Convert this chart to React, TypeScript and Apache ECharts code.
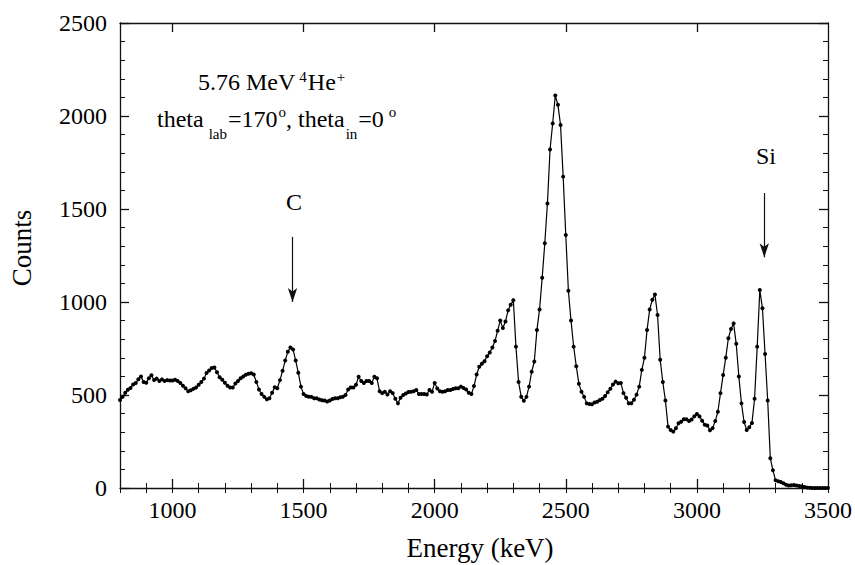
import React, { useEffect, useRef } from "react";
import * as echarts from "echarts";

const FONT = "Liberation Serif";
const INK = "#000";

// Spectrum: 10 keV bins starting at 800 keV
const E_START = 800;
const E_STEP = 10;
const counts0800 = [473, 490, 512, 528, 538, 556, 564, 585, 600, 570, 566, 590, 606, 580, 588, 575, 584, 575, 580, 578];
const counts1000 = [578, 582, 575, 565, 550, 536, 520, 525, 533, 540, 555, 570, 588, 618, 632, 645, 648, 622, 595, 582];
const counts1200 = [566, 550, 540, 540, 562, 575, 590, 600, 609, 614, 617, 610, 570, 530, 505, 490, 477, 482, 512, 542];
const counts1400 = [536, 580, 630, 685, 733, 755, 745, 685, 620, 545, 505, 495, 491, 490, 483, 482, 476, 472, 470, 465];
const counts1600 = [470, 478, 482, 482, 488, 491, 500, 530, 540, 540, 555, 598, 575, 565, 575, 575, 565, 598, 590, 520];
const counts1800 = [510, 518, 503, 520, 510, 480, 455, 485, 500, 508, 516, 518, 520, 527, 505, 505, 505, 503, 527, 518];
const counts2000 = [565, 535, 520, 518, 520, 527, 527, 532, 536, 536, 545, 538, 530, 512, 505, 548, 610, 652, 668, 682];
const counts2200 = [708, 728, 755, 790, 845, 900, 860, 895, 955, 985, 1010, 760, 570, 491, 469, 490, 545, 625, 680, 850];
const counts2400 = [960, 1130, 1316, 1530, 1820, 1960, 2110, 2060, 1952, 1674, 1360, 1060, 900, 760, 655, 560, 518, 490, 455, 452];
const counts2600 = [450, 460, 464, 473, 480, 495, 515, 534, 556, 572, 563, 565, 510, 485, 455, 456, 474, 502, 545, 635];
const counts2800 = [700, 850, 960, 1012, 1040, 930, 690, 570, 470, 330, 312, 303, 321, 348, 356, 370, 370, 360, 368, 385];
const counts3000 = [398, 385, 362, 340, 336, 310, 322, 360, 410, 510, 607, 700, 805, 855, 885, 775, 600, 455, 355, 312];
const counts3200 = [327, 350, 480, 760, 1064, 966, 720, 470, 160, 95, 42, 36, 32, 25, 17, 14, 15, 16, 13, 11];
const counts3400 = [9, 5, 2, 1, 0, 0, 0, 0, 0, 0, 0];

const COUNTS = [
  ...counts0800, ...counts1000, ...counts1200, ...counts1400, ...counts1600,
  ...counts1800, ...counts2000, ...counts2200, ...counts2400, ...counts2600,
  ...counts2800, ...counts3000, ...counts3200, ...counts3400,
];

const X_MIN = 800;
const X_MAX = 3500;
const Y_MIN = 0;
const Y_MAX = 2500;
const xMajorTicks = [1000, 1500, 2000, 2500, 3000];
const xTickLabels = [1000, 1500, 2000, 2500, 3000, 3500];

// Annotation arrows (energy, from count, to count)
const peakLabels = ["C", "Si"];
const arrowEnergy = [1458, 3257];
const arrowFrom = [1350, 1586];
const arrowTo = [1000, 1240];

type Seg = { t: string; s: number; dy: number; gap?: number };

const line1: Seg[] = [
  { t: "5.76 MeV", s: 24, dy: 0 },
  { t: "4", s: 15, dy: -8, gap: 4 },
  { t: "He", s: 24, dy: 0, gap: 1 },
  { t: "+", s: 15, dy: -8, gap: 1 },
];
const line2: Seg[] = [
  { t: "theta", s: 24, dy: 0 },
  { t: "lab", s: 15, dy: 12, gap: 5 },
  { t: "=170", s: 24, dy: 0, gap: 1 },
  { t: "o", s: 15, dy: -10, gap: 1 },
  { t: ", theta", s: 24, dy: 0 },
  { t: "in", s: 15, dy: 12, gap: 1 },
  { t: "=0", s: 24, dy: 0, gap: 1 },
  { t: "o", s: 15, dy: -10, gap: 5 },
];

function measure(text: string, size: number): number {
  const c = document.createElement("canvas").getContext("2d");
  if (!c) return text.length * size * 0.5;
  c.font = `${size}px "${FONT}", serif`;
  return c.measureText(text).width;
}

function lineEls(segs: Seg[], xLeft: number, baseline: number) {
  let x = xLeft;
  const els: any[] = [];
  for (const sg of segs) {
    x += sg.gap || 0;
    els.push({
      type: "text",
      x,
      y: baseline + sg.dy - 0.3375 * sg.s,
      silent: true,
      style: {
        text: sg.t,
        fontSize: sg.s,
        fontFamily: FONT,
        fill: INK,
        align: "left",
        verticalAlign: "middle",
      },
    });
    x += measure(sg.t, sg.s);
  }
  return els;
}

export default function App() {
  const ref = useRef<HTMLDivElement>(null);

  useEffect(() => {
    if (!ref.current) return;
    const chart = echarts.init(ref.current, undefined, { renderer: "svg" });

    const data = COUNTS.map((c, i) => [E_START + i * E_STEP, c]);
    const axisLineStyle = { color: "#111", width: 1.3 };
    const plain = (v: number) => String(v);

    const majorX = (position: "top" | "bottom", labels: boolean) => ({
      type: "value",
      position,
      min: X_MIN,
      max: X_MAX,
      axisLine: { show: true, onZero: false, lineStyle: axisLineStyle },
      axisTick: { show: true, inside: true, length: 9, customValues: xMajorTicks, lineStyle: axisLineStyle },
      axisLabel: {
        show: labels,
        customValues: xTickLabels,
        formatter: plain,
        margin: 10,
        fontSize: 24,
        fontFamily: FONT,
        color: INK,
      },
      splitLine: { show: false },
    });
    const minorX = (position: "top" | "bottom") => ({
      type: "value",
      position,
      min: X_MIN,
      max: X_MAX,
      interval: 100,
      axisLine: { show: false },
      axisTick: { show: true, inside: true, length: 5, lineStyle: { color: "#111", width: 1 } },
      axisLabel: { show: false },
      splitLine: { show: false },
    });
    const yAx = (position: "left" | "right", labels: boolean) => ({
      type: "value",
      position,
      min: Y_MIN,
      max: Y_MAX,
      interval: 500,
      axisLine: { show: true, onZero: false, lineStyle: axisLineStyle },
      axisTick: { show: true, inside: true, length: 9, lineStyle: axisLineStyle },
      minorTick: { show: true, splitNumber: 5, length: 5, lineStyle: { color: "#111", width: 1 } },
      axisLabel: { show: labels, formatter: plain, margin: 13, fontSize: 24, fontFamily: FONT, color: INK },
      splitLine: { show: false },
      minorSplitLine: { show: false },
    });

    const option: any = {
      animation: false,
      backgroundColor: "#fff",
      textStyle: { fontFamily: FONT },
      grid: { left: 120, right: 26, top: 23, bottom: 77, containLabel: false },
      xAxis: [majorX("bottom", true), minorX("bottom"), majorX("top", false), minorX("top")],
      yAxis: [yAx("left", true), yAx("right", false)],
      series: [
        {
          type: "line",
          xAxisIndex: 0,
          yAxisIndex: 0,
          data,
          symbol: "circle",
          symbolSize: 4,
          showSymbol: true,
          itemStyle: { color: INK },
          lineStyle: { color: INK, width: 1.2 },
          silent: true,
          markLine: {
            silent: true,
            symbol: ["none", "arrow"],
            symbolSize: [7, 14],
            label: { show: false },
            lineStyle: { color: "#111", width: 1.2, type: "solid" },
            data: arrowEnergy.map((e, i) => [
              { coord: [e, arrowFrom[i]] },
              { coord: [e, arrowTo[i]] },
            ]),
          },
        },
      ],
      graphic: [
        ...lineEls(line1, 198, 90),
        ...lineEls(line2, 157, 127),
        {
          type: "text",
          x: 294,
          y: 202,
          silent: true,
          style: { text: peakLabels[0], fontSize: 24, fontFamily: FONT, fill: INK, align: "center", verticalAlign: "middle" },
        },
        {
          type: "text",
          x: 766,
          y: 156,
          silent: true,
          style: { text: peakLabels[1], fontSize: 24, fontFamily: FONT, fill: INK, align: "center", verticalAlign: "middle" },
        },
        {
          type: "text",
          x: 22,
          y: 248,
          rotation: Math.PI / 2,
          silent: true,
          style: { text: "Counts", fontSize: 27, fontFamily: FONT, fill: INK, align: "center", verticalAlign: "middle" },
        },
        {
          type: "text",
          x: 480,
          y: 548,
          silent: true,
          style: { text: "Energy (keV)", fontSize: 27, fontFamily: FONT, fill: INK, align: "center", verticalAlign: "middle" },
        },
      ],
    };

    chart.setOption(option);
    return () => chart.dispose();
  }, []);

  return (
    <div
      ref={ref}
      style={{ position: "fixed", left: 0, top: 0, width: 855, height: 565, background: "#fff" }}
    />
  );
}
